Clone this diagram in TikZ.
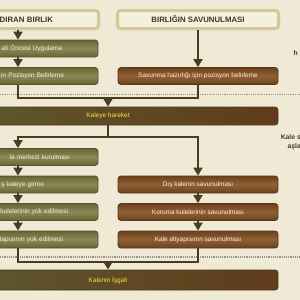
\documentclass[tikz,border=0pt]{standalone}
\usepackage{fontspec}
\setmainfont{Liberation Sans}
\usepackage{tikz}
\usetikzlibrary{arrows.meta,positioning}
\definecolor{paper}{RGB}{239,233,214}
\definecolor{hdrfill}{RGB}{245,240,222}
\definecolor{hdrline}{RGB}{214,199,153}
\definecolor{olvdark}{RGB}{104,100,52}
\definecolor{olvlite}{RGB}{142,137,86}
\definecolor{brndark}{RGB}{106,66,30}
\definecolor{brnlite}{RGB}{146,96,52}
\definecolor{linec}{RGB}{74,60,32}
\definecolor{boxtext}{RGB}{245,240,222}
\definecolor{goldtext}{RGB}{240,228,70}
\definecolor{dotc}{RGB}{150,146,130}

\begin{document}
\begin{tikzpicture}[x=1pt,y=-1pt,
  hdr/.style={rectangle,rounded corners=3pt,draw=hdrline,line width=3pt,fill=hdrfill,
              minimum width=161pt,minimum height=18pt,inner ysep=0pt,
              font=\fontsize{7.8}{9}\selectfont\bfseries,text=linec!90!black},
  olivebox/.style={rectangle,rounded corners=3pt,draw=olvdark!80!black,line width=0.8pt,
                   top color=olvdark,bottom color=olvdark,middle color=olvlite,
                   minimum height=17pt,inner ysep=0pt,text=boxtext,font=\fontsize{6.5}{7.5}\selectfont},
  leftbox/.style={olivebox,text width=#1,align=right,inner xsep={80pt-#1/2}},
  brownbox/.style={olivebox,draw=brndark!80!black,top color=brndark,bottom color=brndark,
                   middle color=brnlite,minimum width=160pt},
  widebox/.style={rectangle,rounded corners=3pt,draw=linec,line width=0.8pt,
                  left color=olvdark!90!black,right color=brndark!90!black,
                  minimum width=340pt,minimum height=18pt,inner ysep=0pt,
                  text=goldtext,font=\fontsize{6.5}{7.5}\selectfont},
  side/.style={align=right,font=\fontsize{6.8}{8.5}\selectfont\bfseries,text=linec,inner sep=0pt},
  line/.style={draw=linec,line width=2pt},
  arr/.style={line,-{Triangle[width=9pt,length=8pt]}},
  sep/.style={draw=dotc,line width=1.2pt,densely dotted}]
\useasboundingbox (0,0) rectangle (300,300);
\fill[paper] (0,0) rectangle (300,300);

% separators
\draw[sep] (0,94.5) -- (300,94.5);
\draw[sep] (0,257) -- (300,257);

% headers
\node[hdr,text width=70pt,align=right,inner xsep=45pt] (hdrA) at (18,19.5) {DIRAN BIRLIK};
\node[hdr] (hdrB) at (198,19.5) {BIRLIĞIN SAVUNULMASI};

% before the march
\node[leftbox=88pt] (atk1) at (18,48.5) {ali Öncesi Uygulama};
\node[leftbox=92pt] (atk2) at (18,76) {in Pozisyon Belirleme};
\node[brownbox] (def1) at (198,76) {Savunma hazırlığı için pozisyon belirleme};

\node[widebox] (march) at (108,116) {Kaleye hareket};

% at the castle
\node[leftbox=104pt] (atk3) at (18,157) {la merkezi kurulması};
\node[leftbox=52pt]  (atk4) at (18,184.5) {ş kaleye girme};
\node[leftbox=100pt] (atk5) at (18,212) {kulelerinin yok edilmesi};
\node[leftbox=90pt]  (atk6) at (18,239.5) {tapısının yok edilmesi};
\node[brownbox] (def2) at (198,184.5) {Dış kalenin savunulması};
\node[brownbox] (def3) at (198,212) {Koruma kulelerinin savunulması};
\node[brownbox] (def4) at (198,239.5) {Kale altyapısının savunulması};

\node[widebox,minimum height=20pt] (occupy) at (108,280) {Kalenin İşgali};

% side notes
\node[side,anchor=east] (noteA) at (298,53) {h};
\node[side,anchor=east] (noteB) at (301,142) {Kale s\\aşla};

% connectors
\coordinate (jn1) at (108,98);
\coordinate (jn2) at (108,137);
\coordinate (jn3) at (108,262);
\draw[arr] (hdrA) -- (atk1);
\draw[arr] (atk1) -- (atk2);
\draw[arr] (hdrB) -- (def1);
\draw[line] (atk2.south) |- (jn1);
\draw[line] (def1.south) |- (jn1);
\draw[arr] (jn1) -- (march.north);
\draw[line] (march.south) -- (jn2);
\draw[arr] (jn2) -| (atk3.north);
\draw[arr] (jn2) -| (def2.north);
\draw[arr] (atk3) -- (atk4);
\draw[arr] (atk4) -- (atk5);
\draw[arr] (atk5) -- (atk6);
\draw[arr] (def2) -- (def3);
\draw[arr] (def3) -- (def4);
\draw[line] (atk6.south) |- (jn3);
\draw[line] (def4.south) |- (jn3);
\draw[arr] (jn3) -- (occupy.north);
\end{tikzpicture}
\end{document}
